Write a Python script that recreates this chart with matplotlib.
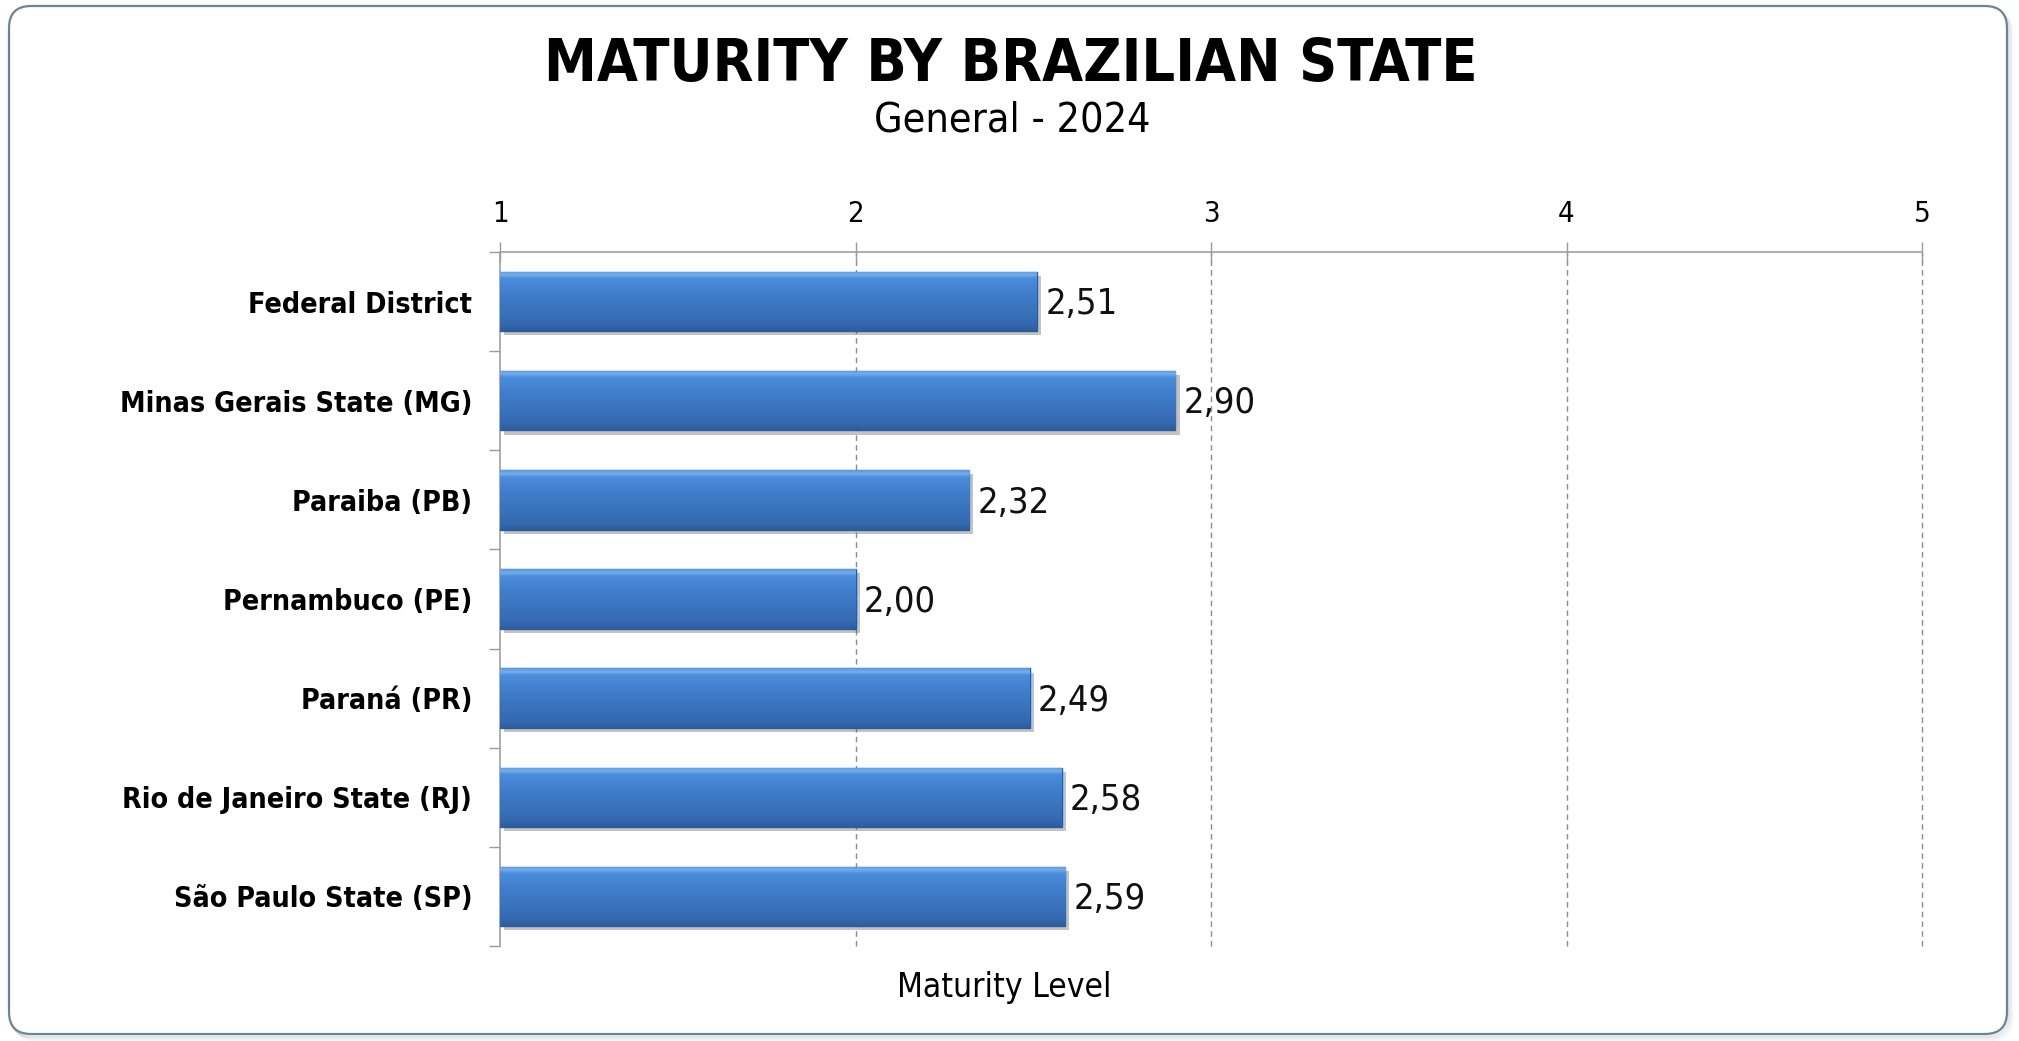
import numpy as np
import matplotlib
matplotlib.use("Agg")
import matplotlib.pyplot as plt
import matplotlib.patheffects as pe
from matplotlib.patches import FancyBboxPatch
from matplotlib.transforms import IdentityTransform
from matplotlib.colors import LinearSegmentedColormap

states = ["Federal District", "Minas Gerais State (MG)", "Paraiba (PB)",
          "Pernambuco (PE)", "Paraná (PR)", "Rio de Janeiro State (RJ)",
          "São Paulo State (SP)"]
scores = [2.51, 2.90, 2.32, 2.00, 2.49, 2.58, 2.59]
levels = [1, 2, 3, 4, 5]

# narrow faces read closer to the Tahoma look
plt.rcParams["font.family"] = ["DejaVu Sans"]
plt.rcParams["font.stretch"] = "condensed"

W, H, DPI = 2019, 1041, 100
fig = plt.figure(figsize=(W / DPI, H / DPI), dpi=DPI)

# rounded frame with a soft drop shadow
for k in range(6, 0, -1):
    fig.patches.append(FancyBboxPatch((9 + k, 6 - k), 1998, 1028,
                                      boxstyle="round,pad=0,rounding_size=22",
                                      transform=IdentityTransform(),
                                      fc="none", ec="#8a949c", lw=1.5,
                                      alpha=0.14 * (7 - k) / 6, zorder=-3))
fig.patches.append(FancyBboxPatch((9, 7), 1998, 1028,
                                  boxstyle="round,pad=0,rounding_size=22",
                                  transform=IdentityTransform(),
                                  fc="white", ec="#6b8598", lw=1.6, zorder=-2))

ax = fig.add_axes([500 / W, 1 - 946 / H, 1422 / W, 694 / H])
ax.set_facecolor("none")

ypos = np.arange(len(states))
bar_h = 0.6
bars = ax.barh(ypos, np.array(scores) - 1, left=1, height=bar_h,
               color="#3f7fcf", edgecolor="#2b5b9c", linewidth=1, zorder=3)

# vertical gradient inside each bar
cmap = LinearSegmentedColormap.from_list(
    "bevel", [(0.0, "#2c5d9f"), (0.12, "#3569b0"), (0.6, "#3f7dcb"),
              (0.88, "#4b8cdb"), (0.94, "#74aeec"), (1.0, "#5c98de")])
grad = np.linspace(0, 1, 200).reshape(-1, 1)
for b, v, y in zip(bars, scores, ypos):
    b.set_path_effects([pe.SimplePatchShadow(offset=(3, -3), shadow_rgbFace="#555555", alpha=0.35),
                        pe.Normal()])
    im = ax.imshow(grad, cmap=cmap, aspect="auto", origin="lower",
                   extent=(1, v, y + bar_h / 2, y - bar_h / 2),
                   zorder=4, interpolation="bilinear")
    im.set_clip_path(b)
    ax.annotate(f"{v:.2f}".replace(".", ","), (v, y), xytext=(6, -2),
                textcoords="offset points", va="center", ha="left",
                fontsize=26, color="#111111", zorder=5)

ax.set_xlim(1, 5)
ax.set_ylim(len(states) - 0.5, -0.5)
ax.xaxis.tick_top()
ax.set_xticks(levels)
ax.set_xticklabels([str(l) for l in levels], fontsize=21)
ax.tick_params(axis="x", direction="inout", length=14, width=1,
               color="#9a9a9a", pad=10)

ax.set_yticks(ypos)
ax.set_yticklabels(states, fontsize=20.5, fontweight="bold")
ax.set_yticks(np.arange(len(states) + 1) - 0.5, minor=True)
ax.tick_params(axis="y", which="major", length=0, pad=20)
ax.tick_params(axis="y", which="minor", length=8, width=1, color="#9a9a9a")

for s in ["right", "bottom"]:
    ax.spines[s].set_visible(False)
for s in ["top", "left"]:
    ax.spines[s].set_color("#a0a0a0")
    ax.spines[s].set_linewidth(1.2)

for l in levels[1:]:
    ax.axvline(l, color="#8c8c8c", lw=1, ls=(0, (4, 3)), zorder=1, clip_on=False)

fig.text(0.5008, 1 - 64 / H, "MATURITY BY BRAZILIAN STATE", ha="center",
         va="center", fontsize=42.5, fontweight="bold")
fig.text(0.5012, 1 - 121 / H, "General - 2024", ha="center", va="center",
         fontsize=29.5)
fig.text(1004 / W, 1 - 987 / H, "Maturity Level", ha="center", va="center",
         fontsize=24)

fig.savefig("out.png", dpi=DPI)
